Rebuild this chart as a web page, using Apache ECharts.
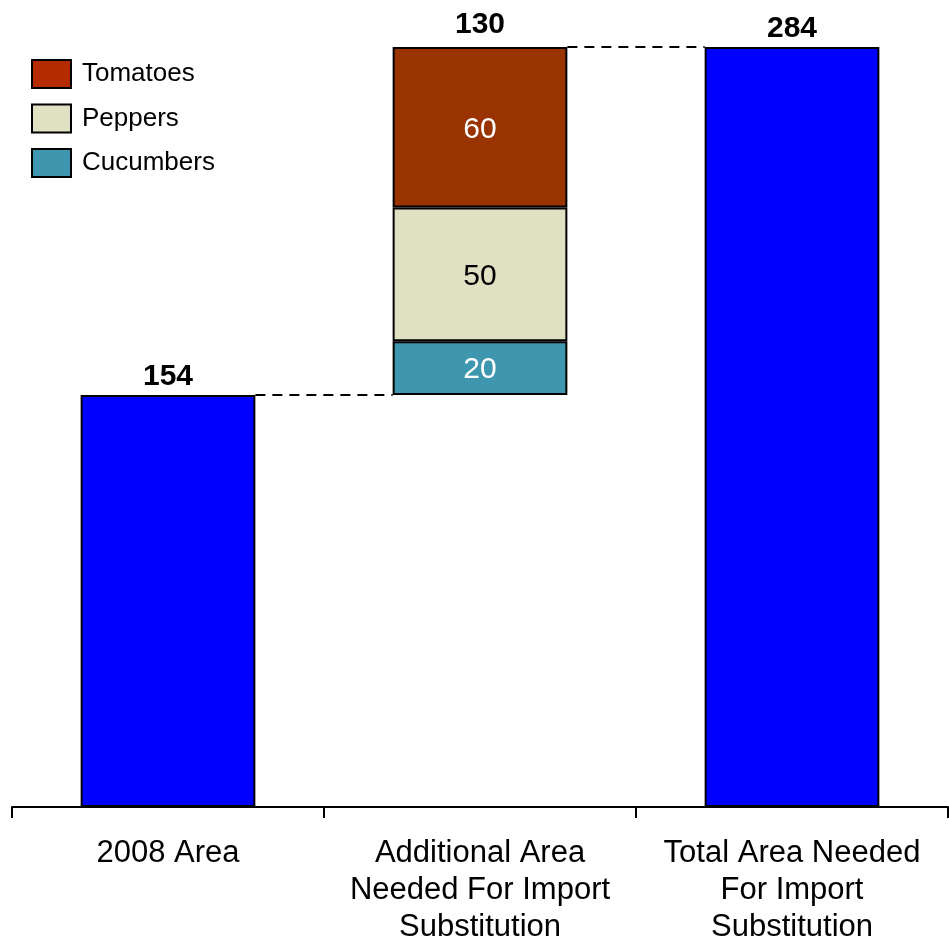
<!DOCTYPE html>
<html><head><meta charset="utf-8">
<script src="https://cdn.jsdelivr.net/npm/echarts@6/dist/echarts.min.js"></script>
<style>html,body{margin:0;padding:0;background:#fff}#c{width:949px;height:939px}</style>
</head><body><div id="c"></div>
<script>
const categories = ['2008 Area', 'Additional Area\nNeeded For Import\nSubstitution', 'Total Area Needed\nFor Import\nSubstitution'];
const baseValues = [0, 154, 0];
const blueValues = [154, null, 284];
const cucumbers = [null, 20, null];
const peppers = [null, 50, null];
const tomatoes = [null, 60, null];
const totals = [154, 130, 284];
const connectors = [[0, 154], [1, 284]];

const font = 'Liberation Sans, Arial, sans-serif';
const chart = echarts.init(document.getElementById('c'));
const barPct = 0.56;
const border = {borderColor: '#000', borderWidth: 2};
chart.setOption({
  animation: false,
  grid: {left: 12, right: 1, top: 47, bottom: 132, outerBoundsMode: 'none', containLabel: false},
  legend: {
    orient: 'vertical', left: 31, top: 59, padding: 0, itemWidth: 39, itemHeight: 28, itemGap: 14.5,
    icon: 'rect',
    textStyle: {fontFamily: font, fontSize: 26, lineHeight: 28, color: '#000', padding: [0,0,0,6]},
    data: [
      {name: 'Tomatoes', itemStyle: {color: '#B52B00'}},
      {name: 'Peppers'},
      {name: 'Cucumbers'}
    ]
  },
  xAxis: {
    type: 'category', data: categories,
    axisLine: {lineStyle: {color: '#000', width: 2}},
    axisTick: {show: true, length: 11, lineStyle: {color: '#000', width: 2}},
    axisLabel: {fontFamily: font, fontSize: 31, color: '#000', lineHeight: 37, margin: 28, interval: 0}
  },
  yAxis: {type: 'value', min: 0, max: 284, show: false, splitLine: {show: false}},
  series: [
    {type: 'bar', name: 'base', stack: 's', data: baseValues, barWidth: (barPct*100)+'%',
     itemStyle: {color: 'transparent'}, silent: true},
    {type: 'bar', name: 'Area', stack: 's', data: blueValues,
     itemStyle: Object.assign({color: '#0000FF'}, border),
     label: {show: true, position: 'top', distance: 3, fontFamily: font, fontSize: 30, fontWeight: 'bold', color: '#000'}},
    {type: 'bar', name: 'Cucumbers', stack: 's', data: cucumbers,
     itemStyle: Object.assign({color: '#3F97AF'}, border),
     label: {show: true, position: 'inside', offset: [0, 2], fontFamily: font, fontSize: 30, color: '#fff'}},
    {type: 'bar', name: 'Peppers', stack: 's', data: peppers,
     itemStyle: Object.assign({color: '#E0E0C2'}, border),
     label: {show: true, position: 'inside', offset: [0, 2], fontFamily: font, fontSize: 30, color: '#000'}},
    {type: 'bar', name: 'Tomatoes', stack: 's', data: tomatoes,
     itemStyle: Object.assign({color: '#993300'}, border),
     label: {show: true, position: 'inside', offset: [0, 2], fontFamily: font, fontSize: 30, color: '#fff'}},
    {type: 'bar', name: 'totals', stack: 's', data: [null, 0, null],
     itemStyle: {color: 'transparent'},
     label: {show: true, position: 'top', distance: 7, fontFamily: font, fontSize: 30, fontWeight: 'bold', color: '#000',
       formatter: p => String(totals[p.dataIndex])}},
    {type: 'custom', name: 'connectors', data: connectors, z: 1,
     renderItem: function(params, api) {
       const c = api.coord([api.value(0), api.value(1)]);
       const c2 = api.coord([api.value(0) + 1, api.value(1)]);
       const bw = api.size([1, 0])[0] * barPct;
       return {type: 'line', shape: {x1: c[0] + bw/2, y1: c[1], x2: c2[0] - bw/2, y2: c2[1]},
               style: {stroke: '#000', lineWidth: 2, lineDash: [10, 7]}};
     }}
  ]
});
</script></body></html>
